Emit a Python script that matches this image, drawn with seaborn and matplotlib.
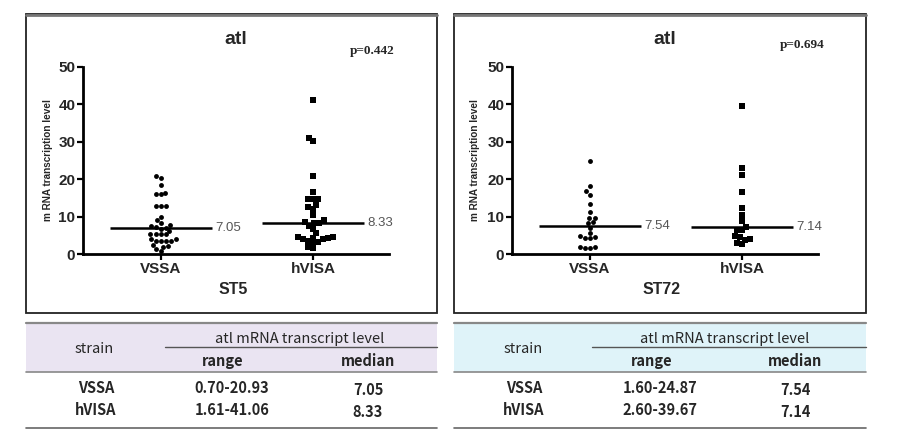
import numpy as np
import pandas as pd
import matplotlib
matplotlib.use("Agg")
import matplotlib.pyplot as plt
from matplotlib.patches import Rectangle
from matplotlib.lines import Line2D
import seaborn as sns

# ---------------- data ----------------
groups = ["VSSA", "hVISA"]
panels = ["ST5", "ST72"]
p_values = ["p=0.442", "p=0.694"]

st5_vssa = [20.3, 20.93, 18.4, 16.4, 16.0, 16.0, 12.8, 12.8, 12.8, 9.8, 9.2, 8.4,
            7.8, 7.4, 7.2, 7.05, 6.8, 6.2, 5.3, 5.3, 5.3, 5.3, 4.0, 3.6, 3.6, 3.6,
            3.4, 3.9, 2.2, 1.9, 2.4, 1.3, 0.70]
st5_hvisa = [41.06, 31.1, 30.2, 20.8, 16.6, 14.8, 14.6, 14.8, 13.1, 12.7, 12.0,
             10.4, 9.0, 8.5, 8.3, 7.6, 8.2, 6.6, 5.5, 4.6, 4.5, 4.2, 4.0, 4.0,
             4.4, 3.3, 3.5, 3.0, 2.0, 1.61]
st72_vssa = [24.87, 18.2, 16.8, 15.8, 13.4, 11.1, 9.7, 9.5, 8.6, 8.2, 7.0, 5.7,
             4.8, 4.6, 4.3, 4.4, 1.8, 1.6, 1.7, 2.0]
st72_hvisa = [39.67, 23.1, 21.0, 16.5, 12.2, 10.4, 8.9, 7.3, 6.3, 6.5, 4.8, 4.5,
              4.0, 3.8, 2.6, 3.0]

st5_medians = [7.05, 8.33]
st72_medians = [7.54, 7.14]
st5_ranges = ["0.70-20.93", "1.61-41.06"]
st72_ranges = ["1.60-24.87", "2.60-39.67"]
yticks = [0, 10, 20, 30, 40, 50]

# ---------------- figure ----------------
sns.set_theme(style="white")
plt.rcParams["font.family"] = ["Liberation Sans", "DejaVu Sans"]

W, H = 898, 430
fig = plt.figure(figsize=(W / 100, H / 100), dpi=100)
fig.patch.set_facecolor("white")


def fx(x):
    return x / W


def fy(y):
    return 1 - y / H


def ftext(x, y, s, **kw):
    fig.text(fx(x), fy(y), s, **kw)


def fline(x0, x1, y0, y1, **kw):
    fig.add_artist(Line2D([fx(x0), fx(x1)], [fy(y0), fy(y1)],
                          transform=fig.transFigure, **kw))


panel_cfg = [
    dict(ax_left=83, box=(26, 437), vals=(st5_vssa, st5_hvisa), med=st5_medians,
         pv_x=372, pv_y=51, rng=st5_ranges, fill="#EAE4F2",
         sub_x=165, strain_x=94, title_x=236, ylab_x=48,
         range_x=232, median_x=368, head_x=300, rangeh_x=223, medianh_x=368, row_x=96),
    dict(ax_left=512, box=(454, 866), vals=(st72_vssa, st72_hvisa), med=st72_medians,
         pv_x=802, pv_y=45, rng=st72_ranges, fill="#DFF3F9",
         sub_x=592, strain_x=523, title_x=665, ylab_x=475,
         range_x=660, median_x=795, head_x=725, rangeh_x=652, medianh_x=795, row_x=524),
]

ax_w = 306
y0_px, y50_px = 254, 67
tf = ["Noto Sans CJK KR", "DejaVu Sans"]

for k, cfg in enumerate(panel_cfg):
    # outer box
    bx0, bx1 = cfg["box"]
    fig.add_artist(Rectangle((fx(bx0), fy(313)), fx(bx1 - bx0), (313 - 14) / H,
                             transform=fig.transFigure, fill=False,
                             edgecolor="#222222", linewidth=1.3))
    fline(bx0, bx1, 14.5, 14.5, color="#777777", linewidth=2.0)

    ax = fig.add_axes([fx(cfg["ax_left"]), fy(y0_px), ax_w / W, (y0_px - y50_px) / H])
    ax.set_facecolor("none")
    df = pd.DataFrame({
        "group": [groups[0]] * len(cfg["vals"][0]) + [groups[1]] * len(cfg["vals"][1]),
        "value": list(cfg["vals"][0]) + list(cfg["vals"][1]),
    })
    sns.swarmplot(data=df[df.group == groups[0]], x="group", y="value", order=groups,
                  color="black", marker="o", size=3.5, linewidth=0, ax=ax, clip_on=False)
    sns.swarmplot(data=df[df.group == groups[1]], x="group", y="value", order=groups,
                  color="black", marker="s", size=3.7, linewidth=0, ax=ax, clip_on=False)

    for i, m in enumerate(cfg["med"]):
        ax.hlines(m, i - 0.335, i + 0.335, color="black", linewidth=1.8)
        ax.text(i + 0.36, m, f"{m:.2f}", ha="left", va="center", fontsize=9.5,
                color="#555555")

    ax.set_xlim(-0.51, 1.5)
    ax.set_ylim(0, 50)
    ax.set_yticks(yticks)
    ax.set_yticklabels([str(t) for t in yticks], fontsize=11, fontweight="bold")
    ax.set_xticks([0, 1])
    ax.set_xticklabels(groups, fontsize=11, fontweight="bold")
    ax.set_xlabel("")
    ax.set_ylabel("")
    for s in ["top", "right"]:
        ax.spines[s].set_visible(False)
    for s in ["left", "bottom"]:
        ax.spines[s].set_linewidth(2.0)
        ax.spines[s].set_color("black")
    ax.tick_params(axis="both", direction="out", length=4, width=1.6, color="black",
                   pad=1.5, left=True, bottom=True)

    ftext(cfg["title_x"], 40, "atl", ha="center", va="center", fontsize=14,
          fontweight="bold")
    ftext(cfg["pv_x"], cfg["pv_y"], p_values[k], ha="center", va="center",
          fontsize=9.5, fontweight="bold", family=["Liberation Serif", "DejaVu Serif"])
    ftext(cfg["ylab_x"], 160, "m RNA transcription level", ha="center", va="center",
          rotation=90, fontsize=7.2, fontweight="bold")
    ftext(cfg["title_x"] - 3, 290, panels[k], ha="center", va="center", fontsize=11.5,
          fontweight="bold")

    # ---------------- table ----------------
    fig.add_artist(Rectangle((fx(bx0), fy(372)), fx(bx1 - bx0), (372 - 323) / H,
                             transform=fig.transFigure, facecolor=cfg["fill"],
                             edgecolor="none"))
    fline(bx0, bx1, 323, 323, color="#888888", linewidth=1.6)
    fline(cfg["sub_x"], bx1, 347, 347, color="#555555", linewidth=1.0)
    fline(bx0, bx1, 372, 372, color="#888888", linewidth=1.2)
    fline(bx0, bx1, 428, 428, color="#666666", linewidth=1.2)
    ftext(cfg["strain_x"], 349, "strain", ha="center", va="center", fontsize=10.5,
          family=tf)
    ftext(cfg["head_x"], 339, "atl mRNA transcript level", ha="center", va="center",
          fontsize=10.5, family=tf)
    ftext(cfg["rangeh_x"], 361, "range", ha="center", va="center", fontsize=10.5,
          family=tf, fontweight="bold")
    ftext(cfg["medianh_x"], 361, "median", ha="center", va="center", fontsize=10.5,
          family=tf, fontweight="bold")
    for r, (g, rg, m) in enumerate(zip(groups, cfg["rng"], cfg["med"])):
        yy = 388 + r * 22
        ftext(cfg["row_x"], yy, g, ha="center", va="center", fontsize=10.5,
              fontweight="bold", family=tf)
        ftext(cfg["range_x"], yy, rg, ha="center", va="center", fontsize=10.5,
              fontweight="bold", family=tf)
        ftext(cfg["median_x"], yy + 2, f"{m:.2f}", ha="center", va="center",
              fontsize=10.5, fontweight="bold", family=tf)

fig.savefig("out.png", dpi=100)
